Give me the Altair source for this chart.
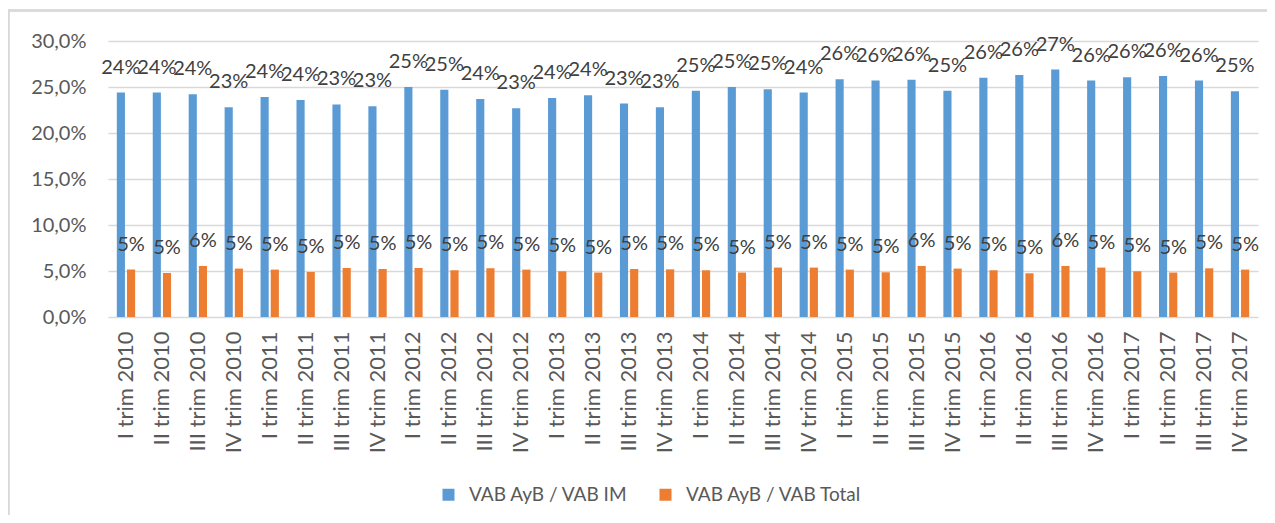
import altair as alt
import pandas as pd

quarters = ["I trim", "II trim", "III trim", "IV trim"]
years = [2010, 2011, 2012, 2013, 2014, 2015, 2016, 2017]
categories = [f"{q} {y}" for y in years for q in quarters]

series_names = ["VAB AyB / VAB IM", "VAB AyB / VAB Total"]
series_colors = ["#5B9BD5", "#ED7D31"]

vab_im = [24.4, 24.4, 24.2, 22.8, 23.9, 23.6, 23.1, 22.9,
          25.0, 24.7, 23.7, 22.7, 23.8, 24.1, 23.2, 22.8,
          24.6, 25.0, 24.75, 24.4, 25.85, 25.7, 25.8, 24.6,
          26.0, 26.3, 26.9, 25.7, 26.05, 26.2, 25.7, 24.55]
vab_total = [5.15, 4.78, 5.55, 5.26, 5.15, 4.89, 5.33, 5.22,
             5.33, 5.08, 5.30, 5.15, 4.97, 4.83, 5.22, 5.18,
             5.08, 4.83, 5.37, 5.37, 5.15, 4.86, 5.55, 5.26,
             5.08, 4.75, 5.55, 5.37, 4.97, 4.83, 5.29, 5.15]

rows = []
for c, a, b in zip(categories, vab_im, vab_total):
    rows.append({"cat": c, "serie": series_names[0], "v": a})
    rows.append({"cat": c, "serie": series_names[1], "v": b})
df = pd.DataFrame(rows)

W, H = 1150, 276

x_enc = alt.X("cat:N", sort=categories, title=None,
              scale=alt.Scale(paddingInner=0.49, paddingOuter=0.245),
              axis=alt.Axis(labelAngle=270, labelFontSize=22, labelColor="#595959",
                            labelPadding=14, ticks=False, domain=False, grid=False,
                            labelFont="Lato"))
xoff = alt.XOffset("serie:N", sort=series_names,
                   scale=alt.Scale(paddingInner=0.2, paddingOuter=0))
y_enc = alt.Y("v:Q", title=None,
              scale=alt.Scale(domain=[0, 30], nice=False),
              axis=alt.Axis(values=[0, 5, 10, 15, 20, 25, 30],
                            labelExpr="replace(format(datum.value, '.1f'), '.', ',') + '%'",
                            labelFontSize=20, labelColor="#595959", labelPadding=22,
                            ticks=False, domain=False, gridColor="#d9d9d9", gridWidth=1.4,
                            minExtent=80, maxExtent=80))
color = alt.Color("serie:N", sort=series_names,
                  scale=alt.Scale(domain=series_names, range=series_colors),
                  legend=alt.Legend(title=None, orient="none", direction="horizontal",
                                    legendX=331, legendY=444, symbolType="square",
                                    symbolSize=144, symbolStrokeWidth=0,
                                    labelFontSize=19, labelColor="#595959", labelLimit=0,
                                    labelOffset=11, columnPadding=28, padding=0))

base = alt.Chart(df)
bars = base.mark_bar().encode(x=x_enc, xOffset=xoff, y=y_enc, color=color)
labels = base.mark_text(fontSize=20, color="#404040", baseline="middle", dy=-25).encode(
    x=x_enc, xOffset=xoff, y=y_enc,
    text=alt.Text("lab:N")
).transform_calculate(lab="format(datum.v, '.0f') + '%'")

border_v = alt.Chart(df).mark_rule(color="#d9d9d9", strokeWidth=1.3).encode(
    x=alt.value(-99.5), y=alt.value(-30.5), y2=alt.value(600))
border_h = alt.Chart(df).mark_rule(color="#d9d9d9", strokeWidth=1.3).encode(
    x=alt.value(-99.5), x2=alt.value(1300), y=alt.value(-30.5))

chart = alt.layer(bars, labels, border_v, border_h).properties(
    width=W, height=H,
    autosize=alt.AutoSizeParams(type="none"),
    padding={"left": 100, "top": 33, "right": 9, "bottom": 198},
).configure(font="Lato").configure_view(stroke=None)

chart.save("out.html", embed_options={"renderer": "svg", "actions": False})
